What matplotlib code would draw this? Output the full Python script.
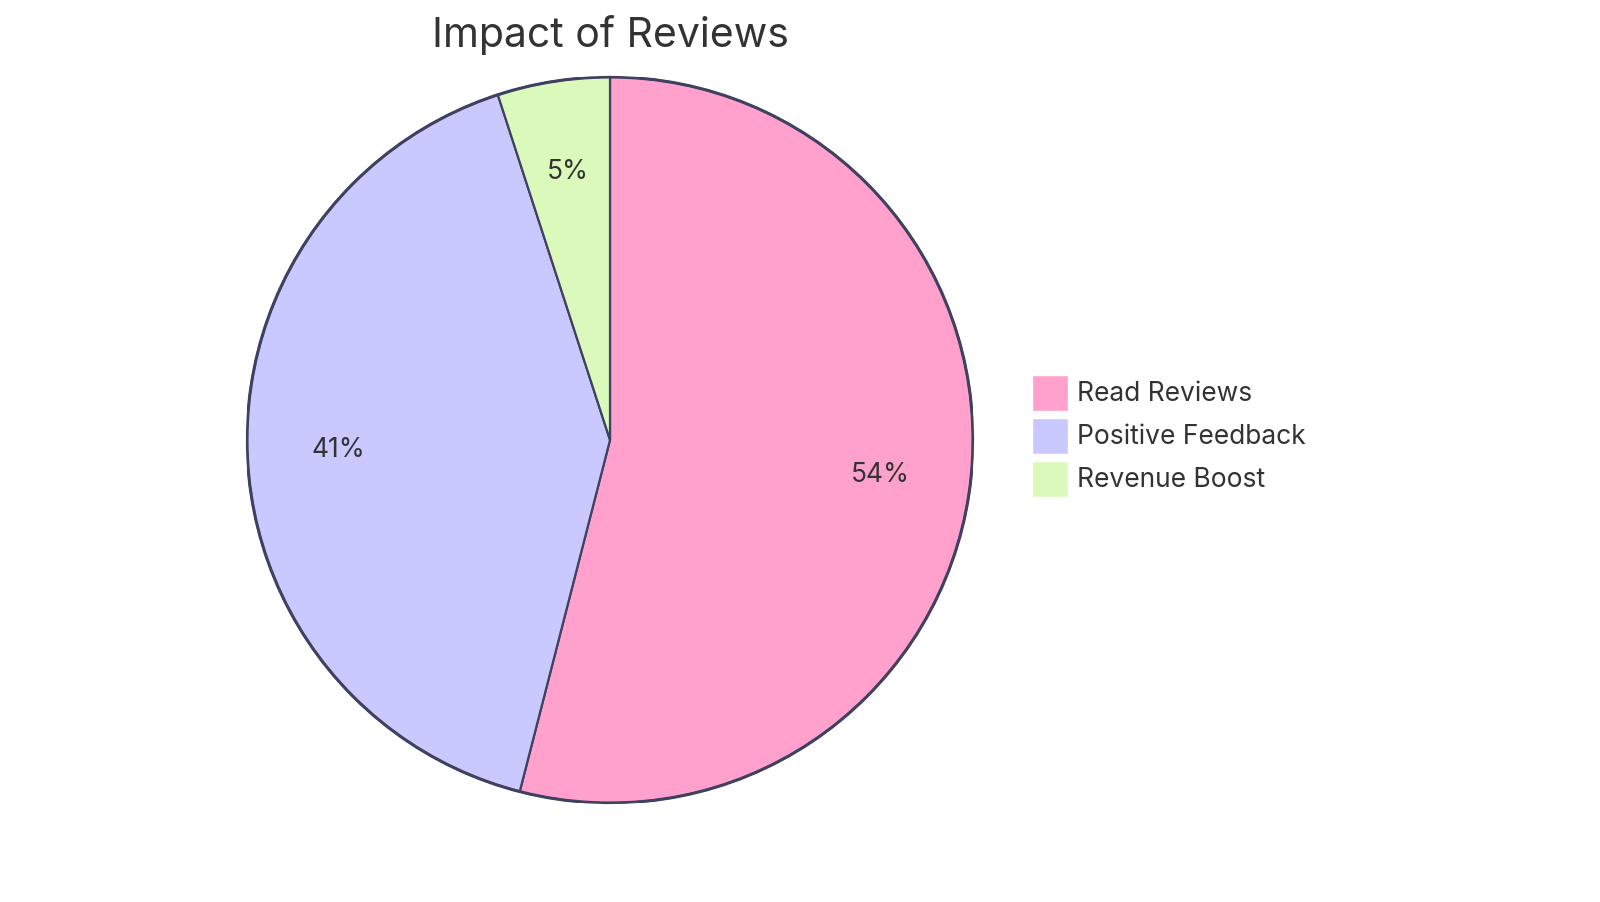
import matplotlib

matplotlib.use("Agg")

import matplotlib.pyplot as plt
from matplotlib.patches import Rectangle

# data
labels = ["Read Reviews", "Positive Feedback", "Revenue Boost"]
values = [54, 41, 5]
colors = ["#FFA1CC", "#C9C9FF", "#DAF9BB"]
title = "Impact of Reviews"

EDGE = "#3F4160"
TEXT = "#333333"
plt.rcParams["font.family"] = ["Inter", "DejaVu Sans"]

W, H = 1600, 903
fig = plt.figure(figsize=(W / 100, H / 100), dpi=100)

# pie centred at (610, 441) px, radius 363 px
cx, cy, r = 610, 441, 363
ax = fig.add_axes([(cx - r) / W, (H - cy - r) / H, 2 * r / W, 2 * r / H])

wedges, texts, autotexts = ax.pie(
    values, colors=colors, startangle=90, counterclock=False, radius=1,
    autopct=lambda p: f"{p:.0f}%", pctdistance=0.75,
    wedgeprops=dict(edgecolor=EDGE, linewidth=1.6),
    textprops=dict(fontsize=19, color=TEXT),
)
# thicker outer rim
ax.add_patch(plt.Circle((0, 0), 1, fill=False, edgecolor=EDGE, linewidth=2.2))
# pie() pads the limits to 1.25; pin them so the radius fills the axes
ax.set_xlim(-1, 1)
ax.set_ylim(-1, 1)
ax.set_aspect("equal")
ax.axis("off")

fig.text(cx / W, 1 - 35 / H, title, ha="center", va="center",
         fontsize=29.5, color=TEXT)

# legend drawn by hand to match the square swatches
box, step = 36, 43
for i, (lab, col) in enumerate(zip(labels, colors)):
    top = 376 + i * step
    fig.patches.append(Rectangle((1032 / W, 1 - (top + box) / H), box / W, box / H,
                                 transform=fig.transFigure, facecolor=col,
                                 edgecolor="white", linewidth=1))
    fig.text(1077 / W, 1 - (top + box / 2) / H, lab, ha="left", va="center",
             fontsize=19, color=TEXT)

fig.savefig("out.png", dpi=100, facecolor="white")
